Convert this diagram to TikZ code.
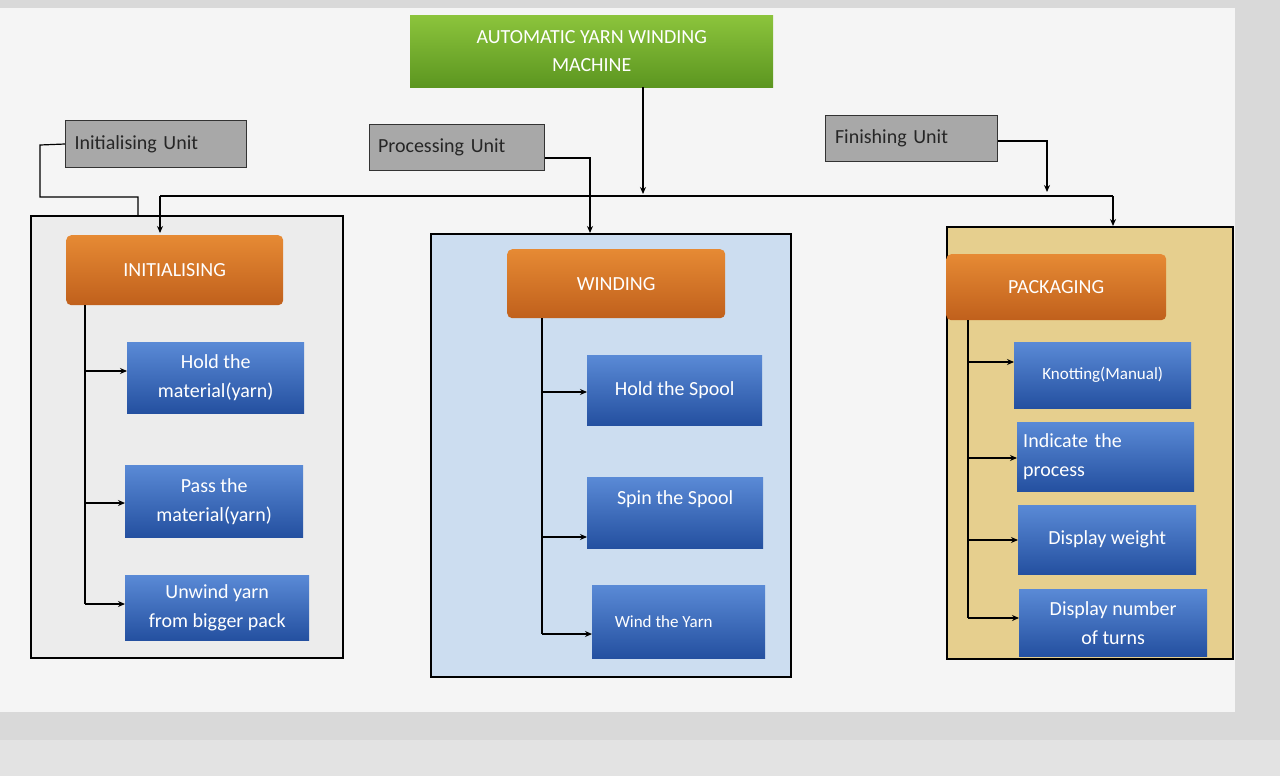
\documentclass[tikz,border=0pt]{standalone}
\usepackage{fontspec}
\setmainfont{Carlito}
\usetikzlibrary{arrows.meta}
\definecolor{btop}{HTML}{5A8AD6}
\definecolor{bbot}{HTML}{2450A0}
\definecolor{otop}{HTML}{E68A34}
\definecolor{obot}{HTML}{C0601C}
\definecolor{gtop}{HTML}{8CC43C}
\definecolor{gbot}{HTML}{5C9620}
\definecolor{midp}{HTML}{CCDDF0}
\definecolor{tanp}{HTML}{E6CF8E}
\definecolor{grayu}{HTML}{A8A8A8}
\begin{document}
\begin{tikzpicture}[x=1pt,y=-1pt,
  unit/.style={draw=black!80,line width=1pt,fill=grayu,anchor=north west,inner sep=0pt,font=\fontsize{20}{22}\selectfont,text=black!85},
  blue/.style={top color=btop,bottom color=bbot,anchor=north west,inner sep=0pt,text=white,font=\fontsize{20}{29}\selectfont,align=center},
  orange/.style={rounded corners=5pt,top color=otop,bottom color=obot,anchor=north west,inner sep=0pt,text=white,font=\fontsize{20}{22}\selectfont},
  panel/.style={draw=black,line width=1.8pt,anchor=north west,inner sep=0pt},
  ln/.style={line width=1.2pt,black},
  ar/.style={ln,-{Stealth[length=7pt,width=6pt]}}]
\useasboundingbox (0,0) rectangle (1280,776);
\fill[gray!30] (0,0) rectangle (1280,776);
\fill[gray!8] (0,8) rectangle (1235,712);
\fill[gray!22] (0,740) rectangle (1280,776);
% title
\node[anchor=north west,minimum width=363pt,minimum height=72pt,inner sep=0pt,top color=gtop,bottom color=gbot,text=white,font=\fontsize{20}{28}\selectfont,align=center] (title) at (410,15) {AUTOMATIC YARN WINDING\\MACHINE};
% units
\node[unit,minimum width=181pt,minimum height=47pt,text width=175pt,align=left] (iu) at (65,120) {\hspace*{6pt}Initialising Unit};
\node[unit,minimum width=175pt,minimum height=46pt,text width=170pt,align=left] (pu) at (369,124) {\hspace*{6pt}Processing Unit};
\node[unit,minimum width=172pt,minimum height=46pt,text width=165pt,align=left] (fu) at (825,115) {\hspace*{6pt}Finishing Unit};
% panels
\node[panel,fill=gray!15,minimum width=312pt,minimum height=442pt] (lp) at (30,215) {};
\node[panel,fill=midp,minimum width=360pt,minimum height=443pt] (mp) at (430,233) {};
\node[panel,fill=tanp,minimum width=286pt,minimum height=432pt] (rp) at (946,226) {};
% orange
\node[orange,minimum width=217pt,minimum height=70pt] (o1) at (66,235) {INITIALISING};
\node[orange,minimum width=218pt,minimum height=69pt] (o2) at (507,249) {WINDING};
\node[orange,minimum width=220pt,minimum height=66pt] (o3) at (946,254) {PACKAGING};
% blue left
\node[blue,minimum width=177pt,minimum height=71pt] (l1) at (127,342) {Hold the\\material(yarn)};
\node[blue,minimum width=178pt,minimum height=72pt] (l2) at (125,465) {Pass the\\material(yarn)};
\node[blue,minimum width=184pt,minimum height=65pt] (l3) at (125,575) {Unwind yarn\\from bigger pack};
% blue middle
\node[blue,minimum width=175pt,minimum height=70pt] (m1) at (587,355) {Hold the Spool};
\node[blue,minimum width=176pt,minimum height=71pt,text depth=30pt] (m2) at (587,477) {Spin the Spool};
\node[blue,minimum width=173pt,minimum height=73pt,font=\fontsize{17}{20}\selectfont] (m3) at (592,585) {\hspace*{-30pt}Wind the Yarn};
% blue right
\node[blue,minimum width=177pt,minimum height=66pt,font=\fontsize{17}{20}\selectfont] (r1) at (1014,342) {Knotting(Manual)};
\node[blue,minimum width=177pt,minimum height=69pt,text width=165pt,align=left] (r2) at (1017,422) {Indicate the\\process};
\node[blue,minimum width=178pt,minimum height=69pt] (r3) at (1018,505) {Display weight};
\node[blue,minimum width=188pt,minimum height=67pt] (r4) at (1019,589) {Display number\\of turns};
% bus
\coordinate (bl) at (160,196); \coordinate (br) at (1113,196);
\draw[ln] (bl) -- (br);
\draw[ar] (title.south -| 643,0) -- (643,194);
\draw[ar] (bl) -- (160,233);
\draw[ar] (br) -- (rp.north -| br);
\draw[ln] (iu.west) -- (40,145) -- (40,197) -- (138,197) -- (138,215);
\draw[ar] (pu.east |- 0,158) -- (590,158) -- (mp.north -| 590,0);
\draw[ar] (fu.east |- 0,141) -- (1047,141) -- (1047,192);
% trunks
\draw[ln] (85,305) -- (85,604);
\draw[ar] (85,371) -- (l1.west |- 0,371);
\draw[ar] (85,503) -- (l2.west |- 0,503);
\draw[ar] (85,604) -- (l3.west |- 0,604);
\draw[ln] (542,318) -- (542,634);
\draw[ar] (542,392) -- (m1.west |- 0,392);
\draw[ar] (542,537) -- (m2.west |- 0,537);
\draw[ar] (542,634) -- (m3.west |- 0,634);
\draw[ln] (968,320) -- (968,618);
\draw[ar] (968,362) -- (r1.west |- 0,362);
\draw[ar] (968,458) -- (r2.west |- 0,458);
\draw[ar] (968,540) -- (r3.west |- 0,540);
\draw[ar] (968,618) -- (r4.west |- 0,618);
\end{tikzpicture}
\end{document}
